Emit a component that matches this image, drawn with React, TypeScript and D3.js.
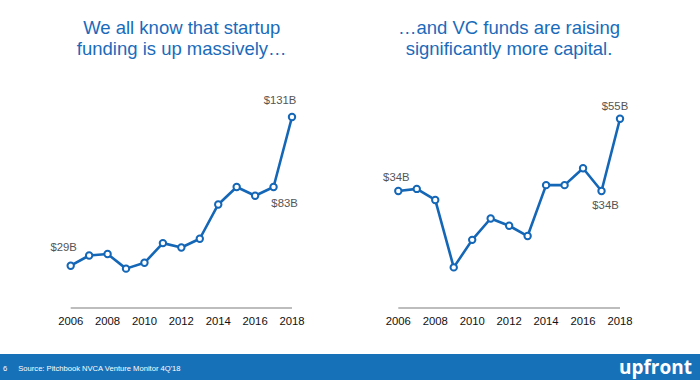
import React from "react";
import * as d3 from "d3";

const years = [2006, 2007, 2008, 2009, 2010, 2011, 2012, 2013, 2014, 2015, 2016, 2017, 2018];
const tickYears = [2006, 2008, 2010, 2012, 2014, 2016, 2018];
const startupFunding = [29, 36, 37, 27, 31, 44.5, 41.5, 47.5, 71, 83, 77, 83, 131];
const vcFundraising = [34, 34.6, 31.4, 11.8, 19.8, 26, 23.9, 20.9, 35.7, 35.7, 40.6, 34, 55];
const leftTitle = ["We all know that startup", "funding is up massively…"];
const rightTitle = ["…and VC funds are raising", "significantly more capital."];
const leftLabels = [
  { i: 0, text: "$29B", dx: -7, dy: -15 },
  { i: 12, text: "$131B", dx: -12, dy: -13 },
  { i: 11, text: "$83B", dx: 11, dy: 20 },
];
const rightLabels = [
  { i: 0, text: "$34B", dx: -2, dy: -10 },
  { i: 12, text: "$55B", dx: -5, dy: -9 },
  { i: 11, text: "$34B", dx: 4, dy: 18 },
];
const sourceText = "Source: Pitchbook NVCA Venture Monitor 4Q'18";
const pageNumber = "6";
const brand = "upfront";

const BLUE = "#1466b6";
const TITLE_BLUE = "#1a6bbb";
const FONT = "'Liberation Sans', Arial, Helvetica, sans-serif";

type Lbl = { i: number; text: string; dx: number; dy: number };

function Panel({ values, x0, x1, yMax, yTop, labels, title, titleX }: {
  values: number[]; x0: number; x1: number; yMax: number; yTop: number; labels: Lbl[]; title: string[]; titleX: number;
}) {
  const x = d3.scaleLinear().domain([2006, 2018]).range([x0, x1]);
  const y = d3.scaleLinear().domain([0, yMax]).range([308, yTop]);
  const line = d3.line<number>().x((_, i) => x(years[i])).y((d) => y(d));
  return (
    <g>
      {title.map((t, k) => (
        <text key={k} x={titleX} y={34 + k * 21} textAnchor="middle" fontSize={18.5} fill={TITLE_BLUE} fontFamily={FONT}>
          {t}
        </text>
      ))}
      <line x1={x(2006)} x2={x(2018)} y1={y(0)} y2={y(0)} stroke="#bdbdbd" strokeWidth={2} />
      {tickYears.map((yr) => (
        <text key={yr} x={x(yr)} y={325} textAnchor="middle" fontSize={11.3} fill="#111" fontFamily={FONT}>
          {yr}
        </text>
      ))}
      <path d={line(values) || ""} fill="none" stroke={BLUE} strokeWidth={2.6} strokeLinejoin="round" />
      {values.map((v, i) => (
        <circle key={i} cx={x(years[i])} cy={y(v)} r={3.2} fill="#fff" stroke={BLUE} strokeWidth={2} />
      ))}
      {labels.map((l, k) => (
        <text key={k} x={x(years[l.i]) + l.dx} y={y(values[l.i]) + l.dy} textAnchor="middle" fontSize={11.3} fill="#555" fontFamily={FONT}>
          {l.text}
        </text>
      ))}
    </g>
  );
}

export default function App() {
  return (
    <svg width={700} height={380} style={{ position: "absolute", left: 0, top: 0, background: "#fff" }}>
      <rect x={0} y={0} width={700} height={380} fill="#fff" />
      <Panel values={startupFunding} x0={70.7} x1={292} yMax={131} yTop={117} labels={leftLabels} title={leftTitle} titleX={181.7} />
      <Panel values={vcFundraising} x0={398.3} x1={620} yMax={55} yTop={118.7} labels={rightLabels} title={rightTitle} titleX={509} />
      <rect x={0} y={354} width={700} height={26} fill="#1771b9" />
      <text x={3} y={370.5} fontSize={7.6} fill="#fff" fontFamily={FONT}>{pageNumber}</text>
      <text x={18.3} y={370.5} fontSize={7.6} fill="#fff" fontFamily={FONT}>{sourceText}</text>
      <text x={692} y={373.5} textAnchor="end" fontSize={19} fontWeight="bold" fill="#fff" fontFamily="'Open Sans', 'Liberation Sans', Arial, sans-serif">{brand}</text>
    </svg>
  );
}
